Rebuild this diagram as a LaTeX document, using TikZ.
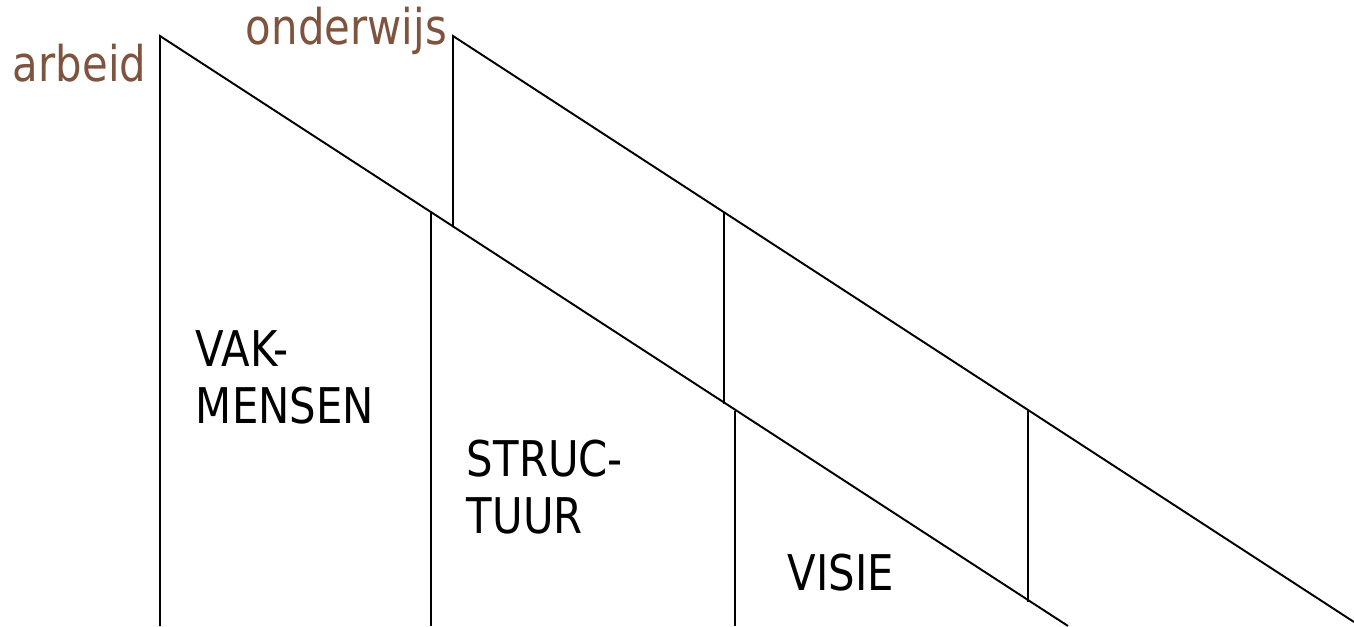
\documentclass[tikz,border=0pt]{standalone}
\usepackage{fontspec}
\setmainfont{DejaVu Sans}[FakeStretch=0.85]
\usepackage{tikz}
\definecolor{bruin}{RGB}{126,84,63}
\tikzset{
every node/.style={inner sep=0pt, anchor=base west}, % text placed by its (last) baseline
woord/.style={text=bruin, font=\fontsize{28}{33}\selectfont}, % brown headings
blok/.style={text=black, align=left, font=\fontsize{28}{32}\selectfont}, % labels in the bands
}

\begin{document}
\begin{tikzpicture}[line width=1.1pt]
\useasboundingbox (0,0) rectangle (27.08,12.52);

% corner points of the two bands
\coordinate (a1) at (3.2,11.8);
\coordinate (a0) at (3.2,0);
\coordinate (aend) at (21.36,0);
\coordinate (b1) at (9.06,11.8);
\coordinate (b0) at (9.06,7.98);
\coordinate (bend) at (27.08,0.08);

\draw (a0) -- (a1) -- (aend);
\draw (b0) -- (b1) -- (bend);

% dividers
\coordinate (s1) at (8.62,8.27);
\coordinate (s1b) at (8.62,0);
\coordinate (t1) at (14.48,8.27);
\coordinate (t1b) at (14.48,4.45);
\coordinate (s2) at (14.7,4.31);
\coordinate (s2b) at (14.7,0);
\coordinate (t2) at (20.56,4.31);
\coordinate (t2b) at (20.56,0.49);
\draw (s1) -- (s1b);
\draw (t1) -- (t1b);
\draw (s2) -- (s2b);
\draw (t2) -- (t2b);

\node[woord] (arbeid) at (0.24,10.88) {arbeid};
\node[woord] (onderwijs) at (4.9,11.62) {onderwijs};

\node[blok] (vak) at (3.9,4.06) {VAK-\\MENSEN};
\node[blok] (struc) at (9.32,1.86) {STRUC-\\TUUR};
\node[blok] (visie) at (15.74,0.72) {VISIE};
\end{tikzpicture}
\end{document}
